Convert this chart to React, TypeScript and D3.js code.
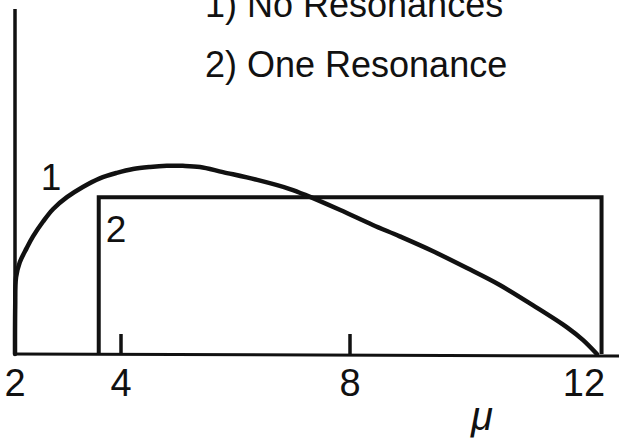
import React from "react";
import * as d3 from "d3";

// Horizontal axis: mu
const muTickLabels = [2, 4, 8, 12];
const muTickMarks = [4, 8];

// Curve 1: no resonances
const noResMu = [
  2.0, 2.004, 2.02, 2.09, 2.22, 2.34, 2.53, 2.72, 2.98, 3.28, 3.6, 3.92,
  4.21, 4.51, 4.8, 5.08, 5.38, 5.78, 6.38, 6.95, 7.25, 7.83, 8.39, 8.85, 9.42,
  10.0, 10.56, 11.13, 11.71, 11.98, 12.22,
];
const noResVal = [
  0, 0.3, 0.49, 0.585, 0.675, 0.75, 0.845, 0.925, 1.0, 1.065, 1.12, 1.155,
  1.18, 1.193, 1.2, 1.2, 1.193, 1.16, 1.11, 1.052, 1.01, 0.918, 0.823, 0.75,
  0.655, 0.548, 0.44, 0.31, 0.17, 0.09, 0,
];

// Curve 2: one resonance (a flat step)
const oneResMu = [3.58, 3.58, 12.3, 12.3];
const oneResVal = [0, 1, 1, 0];

const legendLines = ["1) No Resonances", "2) One Resonance"];

const W = 619;
const H = 445;

export default function App() {
  const x = d3.scaleLinear().domain([2, 4, 8, 12]).range([15, 121, 350, 584]);
  const y = d3.scaleLinear().domain([0, 2.2]).range([354, 9]);

  const line = d3
    .line<[number, number]>()
    .x((d) => x(d[0]))
    .y((d) => y(d[1]))
    .curve(d3.curveCatmullRom.alpha(0.5));

  const stepLine = d3
    .line<[number, number]>()
    .x((d) => x(d[0]))
    .y((d) => y(d[1]));

  const noRes: [number, number][] = noResMu.map((m, i) => [m, noResVal[i]]);
  const oneRes: [number, number][] = oneResMu.map((m, i) => [m, oneResVal[i]]);

  const font = "'Liberation Sans', Arial, sans-serif";
  const ink = "#111";

  // beyond 12 the axis runs on to the right edge
  const xAxisEnd = 12 + (W - 584) / 58.5;

  return (
    <div style={{ position: "absolute", left: 0, top: 0, width: W, height: H }}>
      <svg width={W} height={H} style={{ display: "block", background: "#fff" }}>
        {/* axes */}
        <line x1={x(2)} x2={x(2)} y1={y(2.2)} y2={y(0) + 1} stroke={ink} strokeWidth={3.5} />
        <line x1={x(2) - 1} x2={x(xAxisEnd)} y1={y(0)} y2={y(0) + 2} stroke={ink} strokeWidth={3} />
        {muTickMarks.map((m) => (
          <line key={m} x1={x(m)} x2={x(m)} y1={y(0) - 20} y2={y(0)} stroke={ink} strokeWidth={3.5} />
        ))}
        {muTickLabels.map((m) => (
          <text
            key={m}
            x={x(m)}
            y={396}
            textAnchor="middle"
            fontFamily={font}
            fontSize={38}
            fill={ink}
          >
            {m}
          </text>
        ))}
        <text x={482} y={430} textAnchor="middle" fontFamily={font} fontStyle="italic" fontSize={40} fill={ink}>
          μ
        </text>

        {/* curves */}
        <path d={stepLine(oneRes) ?? ""} fill="none" stroke={ink} strokeWidth={4} strokeLinejoin="miter" />
        <path d={line(noRes) ?? ""} fill="none" stroke={ink} strokeWidth={4.5} strokeLinecap="round" />

        {/* curve labels */}
        <text x={x(2.68)} y={190} textAnchor="middle" fontFamily={font} fontSize={37} fill={ink}>
          1
        </text>
        <text x={116} y={242} textAnchor="middle" fontFamily={font} fontSize={37} fill={ink}>
          2
        </text>

        {/* legend */}
        {legendLines.map((t, i) => (
          <text key={t} x={205} y={17 + i * 60} fontFamily={font} fontSize={36} fill={ink}>
            {t}
          </text>
        ))}
      </svg>
    </div>
  );
}
